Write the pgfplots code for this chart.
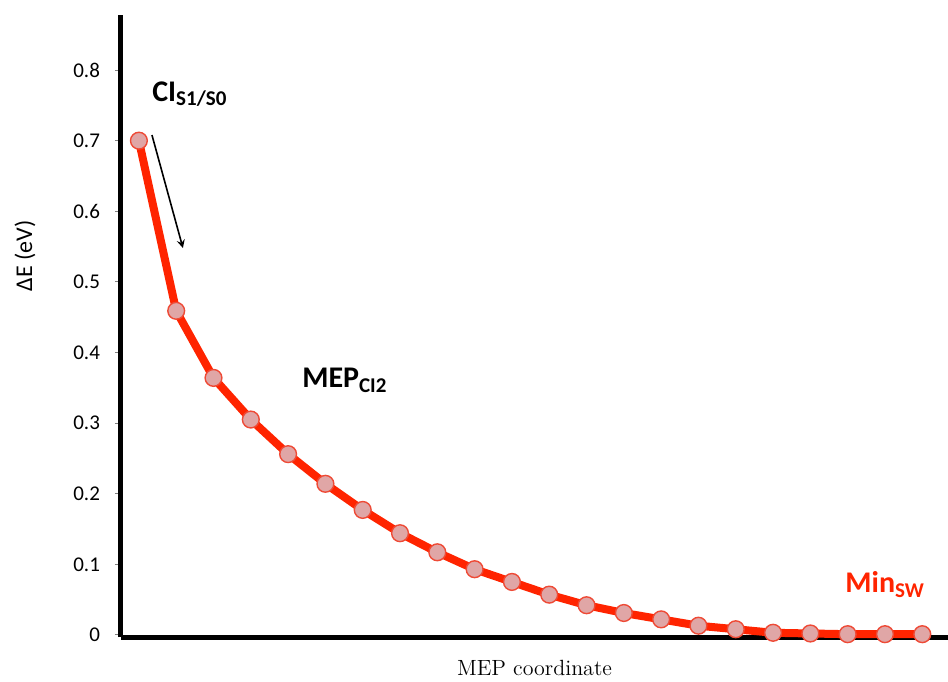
\documentclass[border=0pt]{standalone}
\usepackage{fontspec}
\usepackage{pgfplots}
\pgfplotsset{compat=1.18}
\newfontfamily\carlito{Carlito}
\definecolor{linered}{HTML}{FF2400}
\definecolor{markfill}{HTML}{E0A6A6}
\definecolor{markedge}{HTML}{EE4A36}
\begin{document}
\begin{tikzpicture}
\begin{axis}[
  scale only axis,
  width=413.5pt, height=311pt,
  xmin=-0.48, xmax=21.69,
  ymin=-0.003, ymax=0.878,
  axis x line=bottom, axis y line=left,
  axis line style={line width=2.5pt,-},
  xtick=\empty,
  ytick={0,0.1,0.2,0.3,0.4,0.5,0.6,0.7,0.8},
  tick align=outside,
  major tick length=3pt,
  tick style={gray, line width=0.5pt},
  /pgf/number format/assume math mode=true,
  yticklabel style={font=\carlito\fontsize{10.5}{12}\selectfont, xshift=-4pt},
  xlabel={MEP coordinate},
  xlabel style={at={(axis description cs:0.5,-0.05)}, anchor=center, font=\fontsize{11}{13}\selectfont},
  ylabel={ΔE (eV)},
  ylabel style={at={(axis description cs:-0.116,0.6125)}, anchor=center, font=\carlito\fontsize{12}{14}\selectfont},
  clip=false,
]
\addplot[color=linered, line width=4pt, mark=*, mark size=4.2pt,
  mark options={fill=markfill, draw=markedge, line width=0.7pt}]
coordinates {
(0,0.700) (1,0.459) (2,0.364) (3,0.305) (4,0.256) (5,0.214) (6,0.177) (7,0.144)
(8,0.117) (9,0.093) (10,0.075) (11,0.057) (12,0.042) (13,0.031) (14,0.022) (15,0.013)
(16,0.008) (17,0.003) (18,0.002) (19,0.001) (20,0.001) (21,0.001)
};
\draw[-stealth, line width=0.8pt] (axis cs:0.35,0.708) -- (axis cs:1.18,0.548);
\node[anchor=base west, inner sep=0pt, font=\carlito\bfseries\fontsize{15}{17}\selectfont] at (axis cs:0.35,0.756) {CI\textsubscript{S1/S0}};
\node[anchor=base west, inner sep=0pt, font=\carlito\bfseries\fontsize{15}{17}\selectfont] at (axis cs:4.37,0.350) {MEP\textsubscript{CI2}};
\node[anchor=base west, inner sep=0pt, text=linered, font=\carlito\bfseries\fontsize{15}{17}\selectfont] at (axis cs:18.93,0.0595) {Min\textsubscript{SW}};
\coordinate (bl) at (axis description cs:-0.1463,-0.0723);
\coordinate (tr) at (axis description cs:1.0,1.0241);
\end{axis}
\pgfresetboundingbox
\path[use as bounding box] (bl) rectangle (tr);
\end{tikzpicture}
\end{document}
